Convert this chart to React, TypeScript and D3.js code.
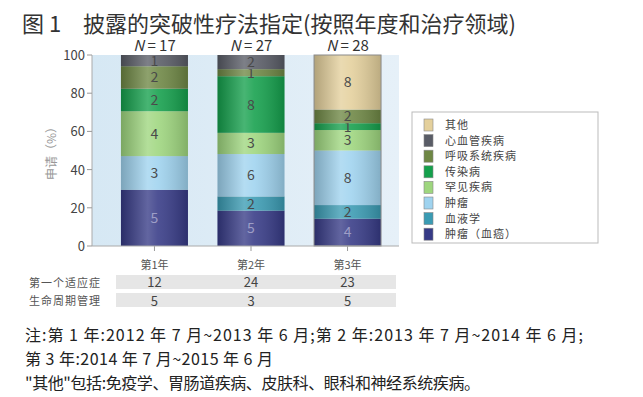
import React from 'react';
import * as d3 from 'd3';

const years = ['第1年', '第2年', '第3年'];
const totals = [17, 27, 28];
// bottom -> top stacking order
const categories = ['肿瘤（血癌）', '血液学', '肿瘤', '罕见疾病', '传染病', '呼吸系统疾病', '心血管疾病', '其他'];
const counts = [
  [5, 0, 3, 4, 2, 2, 1, 0],
  [5, 2, 6, 3, 8, 1, 2, 0],
  [4, 2, 8, 3, 1, 2, 0, 8],
];
const colors = ['#363a86', '#3a9bb3', '#9fd3ef', '#9ed67e', '#14a04c', '#6e8744', '#595c66', '#e4d09c'];
const firstIndication = [12, 24, 23];
const lifecycle = [5, 3, 5];
const yTicks = [0, 20, 40, 60, 80, 100];
const notes = [
  '注:第 1 年:2012 年 7 月~2013 年 6 月;第 2 年:2013 年 7 月~2014 年 6 月;',
  '第 3 年:2014 年 7 月~2015 年 6 月',
  '"其他"包括:免疫学、胃肠道疾病、皮肤科、眼科和神经系统疾病。',
];
const noteWidths = [558, 248, 455];

const W = 643;
const H = 397;
const plot = { left: 92, right: 399, top: 55, bottom: 246 };
const font = '"Noto Sans CJK SC", "Noto Sans", sans-serif';

const App: React.FC = () => {
  const x = d3.scaleBand<string>().domain(years).range([plot.left, 410]).paddingInner(0.306).paddingOuter(0.3);
  const y = d3.scaleLinear().domain([0, 100]).range([plot.bottom, plot.top]);
  const legendOrder = categories.map((_, i) => categories.length - 1 - i);

  return (
    <svg width={W} height={H} style={{ position: 'absolute', left: 0, top: 0, background: '#fff' }} fontFamily={font}>
      <defs>
        <linearGradient id="cyl" x1="0" y1="0" x2="1" y2="0">
          <stop offset="0%" stopColor="#000" stopOpacity={0.22} />
          <stop offset="40%" stopColor="#fff" stopOpacity={0.22} />
          <stop offset="55%" stopColor="#fff" stopOpacity={0.12} />
          <stop offset="100%" stopColor="#000" stopOpacity={0.18} />
        </linearGradient>
        <linearGradient id="bg" x1="0" y1="0" x2="1" y2="0">
          <stop offset="0%" stopColor="#d6e8f4" />
          <stop offset="100%" stopColor="#e6f0f8" />
        </linearGradient>
      </defs>

      <text x={22} y={32} fontSize={22} fill="#333">图 1</text>
      <text x={83} y={32} fontSize={22} fill="#333">披露的突破性疗法指定(按照年度和治疗领域)</text>

      <rect x={plot.left} y={plot.top} width={plot.right - plot.left} height={plot.bottom - plot.top} fill="url(#bg)" />
      <rect x={116} y={275} width={280} height={14} fill="#e6e6e6" />
      <rect x={116} y={293} width={280} height={14} fill="#e6e6e6" />

      {years.map((yr, j) => {
        const bx = x(yr)!;
        const bw = x.bandwidth();
        let cum = 0;
        const segs = counts[j].map((c, i) => {
          const y0 = (cum / totals[j]) * 100;
          cum += c;
          const y1 = (cum / totals[j]) * 100;
          return { c, i, y0, y1 };
        });
        return (
          <g key={yr}>
            {segs.filter(s => s.c > 0).map(s => (
              <g key={s.i}>
                <rect x={bx} y={y(s.y1)} width={bw} height={y(s.y0) - y(s.y1)} fill={colors[s.i]} />
                <text x={bx + bw / 2} y={(y(s.y0) + y(s.y1)) / 2 + 5} textAnchor="middle" fontSize={14}
                  fill={s.i === 0 ? '#8c8cbc' : '#2a2a2a'}>{s.c}</text>
              </g>
            ))}
            <rect x={bx} y={plot.top} width={bw} height={plot.bottom - plot.top} fill="url(#cyl)" />
            {j === 2 && <rect x={bx} y={plot.top} width={bw} height={plot.bottom - plot.top} fill="none" stroke="#8a8a8a" strokeWidth={1} />}
            <text x={bx + bw / 2} y={plot.top - 4} textAnchor="middle" fontSize={15} fill="#333">
              <tspan fontStyle="italic">N</tspan> = {totals[j]}
            </text>
            <line x1={bx + bw / 2} x2={bx + bw / 2} y1={plot.bottom} y2={plot.bottom + 5} stroke="#999" />
            <text x={bx + bw / 2} y={269} textAnchor="middle" fontSize={11} fill="#555">{yr}</text>
            <text x={bx + bw / 2} y={287} textAnchor="middle" fontSize={13} fill="#444">{firstIndication[j]}</text>
            <text x={bx + bw / 2} y={306} textAnchor="middle" fontSize={13} fill="#444">{lifecycle[j]}</text>
          </g>
        );
      })}

      <line x1={plot.left} x2={plot.right} y1={plot.bottom} y2={plot.bottom} stroke="#aaa" />
      <line x1={plot.left} x2={plot.left} y1={plot.top} y2={plot.bottom} stroke="#aaa" />
      {yTicks.map(t => (
        <g key={t}>
          <line x1={plot.left - 5} x2={plot.left} y1={y(t)} y2={y(t)} stroke="#999" />
          <text x={plot.left - 7} y={y(t) + 5} textAnchor="end" fontSize={13} fill="#444">{t}</text>
        </g>
      ))}
      <text transform={`translate(56,${(plot.top + plot.bottom) / 2}) rotate(-90)`} textAnchor="middle" fontSize={12} fill="#999">申请（%）</text>

      <text x={101} y={287} textAnchor="end" fontSize={11} fill="#555" letterSpacing={1}>第一个适应症</text>
      <text x={101} y={305} textAnchor="end" fontSize={11} fill="#555" letterSpacing={1}>生命周期管理</text>

      <rect x={412} y={112} width={186} height={131} fill="#fff" stroke="#bbb" />
      {legendOrder.map((ci, k) => {
        const ly = 119 + k * 15.6;
        return (
          <g key={ci}>
            <rect x={424} y={ly} width={9} height={12} fill={colors[ci]} stroke="#888" strokeWidth={0.6} />
            <text x={445} y={ly + 10} fontSize={11} fill="#444" letterSpacing={1}>{categories[ci]}</text>
          </g>
        );
      })}

      {notes.map((n, i) => (
        <text key={i} x={25} y={341 + i * 24} fontSize={16} fill="#222" textLength={noteWidths[i]} lengthAdjust="spacing">{n}</text>
      ))}
    </svg>
  );
};

export default App;
